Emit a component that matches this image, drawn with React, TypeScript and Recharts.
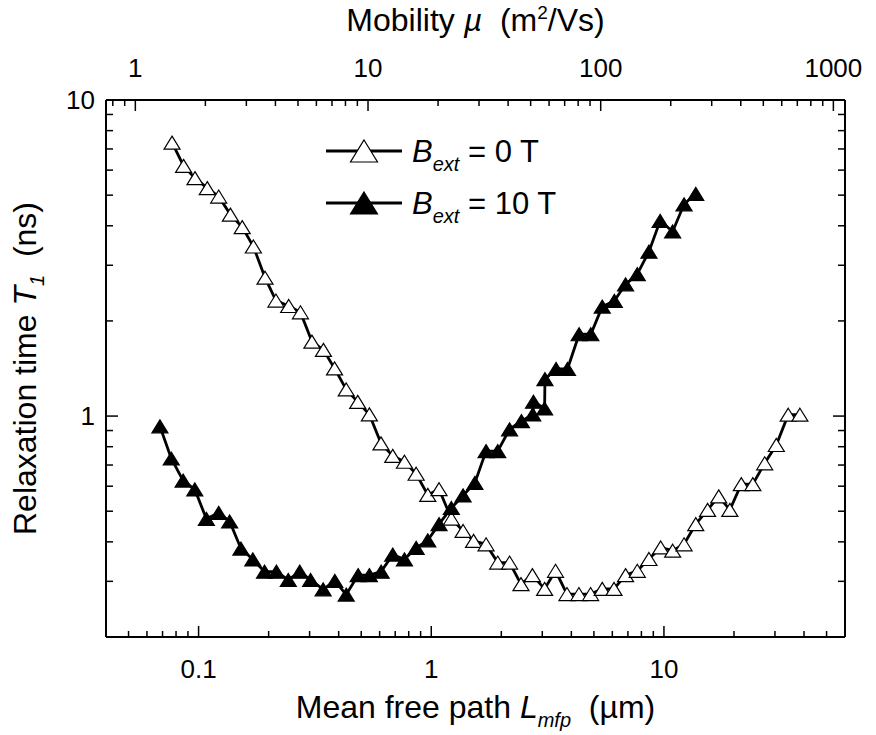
import React from 'react';
import { LineChart, Line, XAxis, YAxis, Legend, Label } from 'recharts';

// B_ext = 0 T (open triangles)
const mfpZero = [0.0769, 0.0862, 0.0965, 0.109, 0.122, 0.137, 0.154, 0.172, 0.193, 0.215, 0.244, 0.274, 0.307, 0.344, 0.384, 0.431, 0.483, 0.542, 0.608, 0.683, 0.767, 0.861, 0.966, 1.08, 1.22, 1.37, 1.52, 1.72, 1.93, 2.17, 2.43, 2.72, 3.07, 3.42, 3.83, 4.31, 4.84, 5.43, 6.1, 6.84, 7.68, 8.62, 9.68, 10.9, 12.2, 13.7, 15.4, 17.2, 19.2, 21.5, 24.1, 27.1, 30.4, 34.2, 38.4];
const t1Zero = [7.33, 6.19, 5.66, 5.26, 4.95, 4.34, 3.96, 3.44, 2.74, 2.32, 2.23, 2.13, 1.72, 1.62, 1.415, 1.214, 1.109, 1.012, 0.82, 0.748, 0.717, 0.657, 0.563, 0.587, 0.474, 0.433, 0.403, 0.393, 0.344, 0.344, 0.294, 0.314, 0.284, 0.324, 0.2735, 0.2735, 0.2735, 0.284, 0.284, 0.314, 0.324, 0.353, 0.384, 0.375, 0.393, 0.455, 0.505, 0.557, 0.505, 0.609, 0.609, 0.709, 0.81, 1.01, 1.01];

// B_ext = 10 T (filled triangles)
const mfpTen = [0.0682, 0.0763, 0.0858, 0.0963, 0.108, 0.122, 0.136, 0.152, 0.171, 0.192, 0.216, 0.243, 0.272, 0.303, 0.343, 0.385, 0.431, 0.485, 0.542, 0.609, 0.683, 0.767, 0.861, 0.966, 1.08, 1.22, 1.37, 1.54, 1.72, 1.93, 2.17, 2.44, 2.73, 2.75, 3.07, 3.08, 3.44, 3.85, 4.32, 4.85, 5.43, 6.12, 6.84, 7.68, 8.62, 9.63, 10.9, 12.2, 13.7];
const t1Ten = [0.928, 0.734, 0.625, 0.586, 0.473, 0.494, 0.464, 0.381, 0.352, 0.322, 0.322, 0.303, 0.322, 0.303, 0.283, 0.301, 0.2725, 0.314, 0.314, 0.322, 0.3645, 0.352, 0.383, 0.4045, 0.455, 0.512, 0.561, 0.615, 0.775, 0.775, 0.908, 0.964, 1.012, 1.11, 1.057, 1.309, 1.409, 1.409, 1.815, 1.815, 2.22, 2.314, 2.611, 2.812, 3.312, 4.148, 3.838, 4.677, 5.049];

const legendLabels = ['0 T', '10 T'];

// tick values
const mfpMajor = [0.1, 1, 10];
const mfpTicks = [0.04, 0.05, 0.06, 0.07, 0.08, 0.09, 0.1, 0.2, 0.3, 0.4, 0.5, 0.6, 0.7, 0.8, 0.9, 1, 2, 3, 4, 5, 6, 7, 8, 9, 10, 20, 30, 40, 50];
const muMajor = [1, 10, 100, 1000];
const muTicks = [0.8, 0.9, 1, 2, 3, 4, 5, 6, 7, 8, 9, 10, 20, 30, 40, 50, 60, 70, 80, 90, 100, 200, 300, 400, 500, 600, 700, 800, 900, 1000];
const t1Major = [1, 10];
const t1Ticks = [0.2, 0.3, 0.4, 0.5, 0.6, 0.7, 0.8, 0.9, 1, 2, 3, 4, 5, 6, 7, 8, 9, 10];

const FONT = "'Liberation Sans', Arial, Helvetica, sans-serif";
const MU_PER_MFP = 18.7; // mobility axis is a rescaled copy of the mfp axis

const zeroData = mfpZero.map((x, i) => ({ x, t: t1Zero[i] }));
const tenData = mfpTen.map((x, i) => ({ x, t: t1Ten[i] }));
// top axis shares the mfp scale, ticks placed where mu = mfp * MU_PER_MFP
const muTicksOnMfp = muTicks.map((m) => m / MU_PER_MFP);

const isMajor = (v: number, majors: number[]) => majors.some((m) => Math.abs(v - m) / m < 1e-6);

const Tri = ({ cx, cy, w, h, filled }: { cx: number; cy: number; w: number; h: number; filled: boolean }) => (
    <polygon
        points={`${cx},${cy - h / 2} ${cx + w / 2},${cy + h / 2} ${cx - w / 2},${cy + h / 2}`}
        fill={filled ? '#000' : '#fff'}
        stroke="#000"
        strokeWidth={1.2}
    />
);

const makeDot = (filled: boolean) => (props: any) => {
    const { cx, cy, index } = props;
    if (cx == null || cy == null) return <g key={`d-${index}`} />;
    return <Tri key={`d-${index}`} cx={cx} cy={cy} w={16} h={13} filled={filled} />;
};

const BottomTick = (props: any) => {
    const { x, y, payload } = props;
    const major = isMajor(payload.value, mfpMajor);
    return (
        <g>
            <line x1={x} y1={y} x2={x} y2={y - (major ? 11 : 6)} stroke="#000" strokeWidth={1.5} />
            {major && (
                <text x={x} y={y + 41} textAnchor="middle" fontSize={26} fontFamily={FONT} fill="#000">
                    {String(payload.value)}
                </text>
            )}
        </g>
    );
};

const TopTick = (props: any) => {
    const { x, y, payload } = props;
    const mu = Math.round(payload.value * MU_PER_MFP * 10) / 10;
    const major = isMajor(mu, muMajor);
    return (
        <g>
            <line x1={x} y1={y} x2={x} y2={y + (major ? 11 : 6)} stroke="#000" strokeWidth={1.5} />
            {major && (
                <text x={x} y={y - 23} textAnchor="middle" fontSize={26} fontFamily={FONT} fill="#000">
                    {String(mu)}
                </text>
            )}
        </g>
    );
};

const LeftTick = (props: any) => {
    const { x, y, payload } = props;
    const major = isMajor(payload.value, t1Major);
    return (
        <g>
            <line x1={x} y1={y} x2={x + (major ? 12 : 7)} y2={y} stroke="#000" strokeWidth={1.5} />
            {major && (
                <text x={x - 11} y={y + 9} textAnchor="end" fontSize={26} fontFamily={FONT} fill="#000">
                    {String(payload.value)}
                </text>
            )}
        </g>
    );
};

const RightTick = (props: any) => {
    const { x, y, payload } = props;
    const major = isMajor(payload.value, t1Major);
    return <line x1={x} y1={y} x2={x - (major ? 12 : 7)} y2={y} stroke="#000" strokeWidth={1.5} />;
};

const LegendBox = () => (
    <svg width={270} height={110}>
        {legendLabels.map((lab, i) => (
            <g key={lab} transform={`translate(0, ${i * 52})`}>
                <line x1={0} y1={20} x2={76} y2={20} stroke="#000" strokeWidth={2.8} />
                <Tri cx={38} cy={20} w={27} h={22} filled={i === 1} />
                <text x={86} y={31} fontSize={31} fontFamily={FONT} fill="#000" style={{ whiteSpace: 'pre' }}>
                    <tspan fontStyle="italic">B</tspan>
                    <tspan fontStyle="italic" fontSize={20} dy={9}>ext</tspan>
                    <tspan dy={-9}>{` = ${lab}`}</tspan>
                </text>
            </g>
        ))}
    </svg>
);

const App = () => {
    const frame = { stroke: '#000', strokeWidth: 2 };
    return (
        <div style={{ position: 'absolute', left: 0, top: 0, background: '#fff' }}>
            <LineChart width={876} height={735} margin={{ top: 0, right: 0, bottom: 0, left: 0 }}>
                <XAxis
                    dataKey="x"
                    type="number"
                    scale="log"
                    domain={[0.04, 60]}
                    allowDataOverflow
                    ticks={mfpTicks}
                    interval={0}
                    height={98}
                    tickSize={0}
                    tickMargin={0}
                    tickLine={false}
                    axisLine={frame}
                    tick={<BottomTick />}
                >
                    <Label
                        content={(p: any) => {
                            const vb = p.viewBox;
                            return (
                                <text x={vb.x + vb.width / 2} y={vb.y + 81} textAnchor="middle" fontSize={32} fontFamily={FONT} fill="#000" style={{ whiteSpace: 'pre' }}>
                                    <tspan>Mean free path </tspan>
                                    <tspan fontStyle="italic">L</tspan>
                                    <tspan fontStyle="italic" fontSize={20} dy={9}>mfp</tspan>
                                    <tspan dy={-9}>{'  (\u00b5m)'}</tspan>
                                </text>
                            );
                        }}
                    />
                </XAxis>
                <XAxis
                    xAxisId="top"
                    dataKey="x"
                    orientation="top"
                    type="number"
                    scale="log"
                    domain={[0.04, 60]}
                    allowDataOverflow
                    ticks={muTicksOnMfp}
                    interval={0}
                    height={100}
                    tickSize={0}
                    tickMargin={0}
                    tickLine={false}
                    axisLine={frame}
                    tick={<TopTick />}
                >
                    <Label
                        content={(p: any) => {
                            const vb = p.viewBox;
                            return (
                                <text x={vb.x + vb.width / 2} y={vb.y + 31} textAnchor="middle" fontSize={32} fontFamily={FONT} fill="#000" style={{ whiteSpace: 'pre' }}>
                                    <tspan>Mobility </tspan>
                                    <tspan fontStyle="italic">{'\u00b5'}</tspan>
                                    <tspan>{'  (m'}</tspan>
                                    <tspan fontSize={19} dy={-12}>2</tspan>
                                    <tspan dy={12}>/Vs)</tspan>
                                </text>
                            );
                        }}
                    />
                </XAxis>
                <YAxis
                    type="number"
                    scale="log"
                    domain={[0.2, 10]}
                    allowDataOverflow
                    ticks={t1Ticks}
                    interval={0}
                    width={106}
                    tickSize={0}
                    tickMargin={0}
                    tickLine={false}
                    axisLine={frame}
                    tick={<LeftTick />}
                >
                    <Label
                        content={(p: any) => {
                            const vb = p.viewBox;
                            const cx = 36;
                            const cy = vb.y + vb.height / 2;
                            return (
                                <text x={cx} y={cy} transform={`rotate(-90, ${cx}, ${cy})`} textAnchor="middle" fontSize={32} fontFamily={FONT} fill="#000" style={{ whiteSpace: 'pre' }}>
                                    <tspan>Relaxation time </tspan>
                                    <tspan fontStyle="italic">T</tspan>
                                    <tspan fontStyle="italic" fontSize={20} dy={8}>1</tspan>
                                    <tspan dy={-8}>{'  (ns)'}</tspan>
                                </text>
                            );
                        }}
                    />
                </YAxis>
                <YAxis
                    yAxisId="right"
                    orientation="right"
                    type="number"
                    scale="log"
                    domain={[0.2, 10]}
                    allowDataOverflow
                    ticks={t1Ticks}
                    interval={0}
                    width={31}
                    tickSize={0}
                    tickMargin={0}
                    tickLine={false}
                    axisLine={frame}
                    tick={<RightTick />}
                />
                <Legend
                    layout="vertical"
                    align="center"
                    verticalAlign="middle"
                    content={() => <LegendBox />}
                    wrapperStyle={{ left: 326, top: 131, width: 270, height: 110 }}
                />
                <Line
                    data={zeroData}
                    dataKey="t"
                    name="B = 0 T"
                    stroke="#000"
                    strokeWidth={2.8}
                    dot={makeDot(false)}
                    activeDot={false}
                    isAnimationActive={false}
                />
                <Line
                    data={tenData}
                    dataKey="t"
                    name="B = 10 T"
                    stroke="#000"
                    strokeWidth={2.8}
                    dot={makeDot(true)}
                    activeDot={false}
                    isAnimationActive={false}
                />
            </LineChart>
        </div>
    );
};

export default App;
